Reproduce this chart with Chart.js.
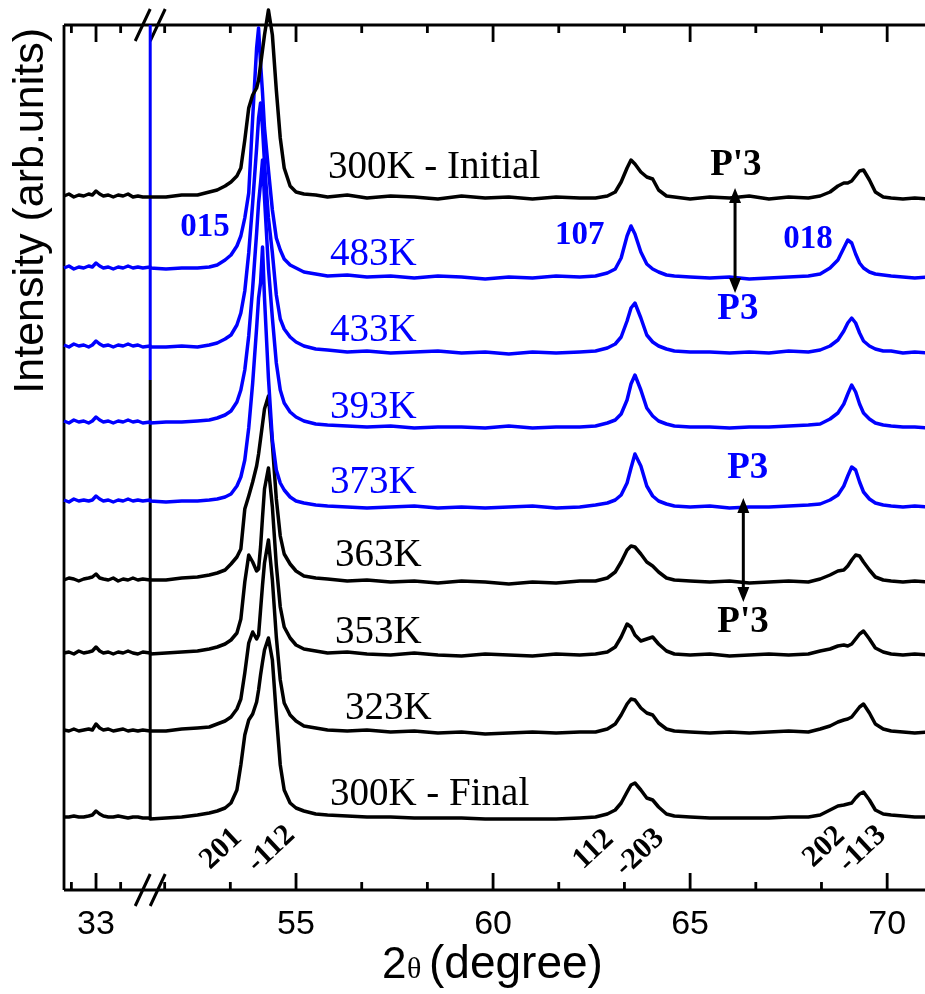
<!DOCTYPE html>
<html>
<head>
<meta charset="utf-8">
<script src="https://cdn.jsdelivr.net/npm/chart.js@4.4.1/dist/chart.umd.min.js"></script>
<style>
  html, body { margin: 0; padding: 0; background: #fff; }
  #wrap { width: 925px; height: 994px; }
</style>
</head>
<body>
<div id="wrap"><canvas id="xrd" width="925" height="994"></canvas></div>
<script>
// 2theta sample points (degree). First block is the 31.7-35.2 window left of the axis break.
const twoTheta = [
    31.7, 31.9, 32.1, 32.3, 32.5, 32.7, 32.85, 33.0, 33.15, 33.3, 33.5, 33.7, 33.9, 34.1, 34.3, 34.5, 34.7, 34.9, 35.2,
    51.3, 51.7, 52.1, 52.5, 52.8, 53.0, 53.2, 53.35, 53.5, 53.6, 53.7, 53.8, 53.9, 54.0, 54.05, 54.1, 54.15, 54.2, 54.3, 54.4, 54.5, 54.6, 54.7, 54.85, 55.0, 55.2, 55.5,
    55.8, 56.3, 56.8, 57.4, 58.0, 58.6, 59.2, 59.8, 60.4, 61.0, 61.6, 62.2,
    62.6, 62.9, 63.1, 63.25, 63.4, 63.5, 63.6, 63.75, 63.9, 64.05, 64.2, 64.4,
    64.6, 65.0, 65.5, 66.0, 66.5, 67.0, 67.5, 68.0,
    68.3, 68.55, 68.75, 68.9, 69.0, 69.1, 69.2, 69.3, 69.4, 69.55, 69.7, 69.9,
    70.1, 70.4, 70.7, 71.0
];

const curveNames = ['300K - Initial', '483K', '433K', '393K', '373K', '363K', '353K', '323K', '300K - Final'];
const curveColors = ['#000000', '#0000ff', '#0000ff', '#0000ff', '#0000ff', '#000000', '#000000', '#000000', '#000000'];
// vertical stacking offset of each pattern (arb. units)
const curveOffsets = [690, 612, 537, 462, 382, 306, 233, 155, 70];

// intensities above each pattern's baseline
const initial300K = [
    4, 6, 3, 5, 4, 6, 5, 9, 6, 4, 5, 3, 5, 4, 6, 3, 4, 3, 3,
    3, 3, 5, 5, 8, 10, 14, 18, 24, 32, 60, 92, 105, 112, 120, 135, 150, 165, 190, 165, 110, 62, 32, 14, 8, 6, 5,
    3, 5, 2, 4, 3, 1, 4, 2, 3, 1, 3, 2,
    2, 4, 8, 18, 32, 40, 36, 28, 23, 21, 10, 4,
    3, 1, 3, 2, 4, 1, 3, 2,
    4, 8, 14, 17, 17, 19, 24, 29, 30, 20, 8, 3,
    2, 1, 2, 1
];
const k483 = [
    10, 12, 9, 11, 10, 12, 11, 15, 12, 10, 11, 9, 11, 10, 12, 10, 11, 10, 11,
    10, 9, 10, 10, 11, 13, 18, 23, 32, 42, 60, 85, 160, 230, 250, 215, 185, 150, 108, 68, 40, 28, 19, 13, 10, 6, 4,
    2, 3, 1, 2, 0, 2, 1, -1, 1, 0, 2, 1,
    2, 5, 9, 20, 42, 52, 44, 26, 14, 9, 6, 3,
    2, 1, 0, 1, -1, 0, 1, 2,
    4, 10, 18, 30, 38, 35, 24, 15, 10, 6, 4, 3,
    2, 1, 0, 1
];
const k433 = [
    8, 6, 9, 7, 8, 6, 8, 12, 9, 7, 8, 6, 8, 7, 9, 7, 8, 6, 7,
    6, 6, 7, 6, 8, 10, 14, 18, 28, 40, 62, 100, 150, 205, 235, 250, 225, 190, 135, 100, 58, 34, 24, 16, 11, 7, 4,
    3, 1, 2, 0, 1, 2, 0, 1, -1, 1, 0, 1,
    2, 5, 9, 16, 32, 45, 50, 35, 18, 11, 7, 4,
    2, 1, 1, 0, 1, 0, 2, 1,
    3, 7, 13, 22, 30, 35, 30, 20, 12, 7, 4, 2,
    2, 0, 1, 0
];
const k393 = [
    7, 5, 8, 6, 7, 5, 7, 11, 8, 6, 7, 5, 7, 6, 8, 6, 7, 5, 6,
    5, 6, 6, 7, 8, 10, 13, 17, 26, 38, 58, 92, 140, 195, 225, 245, 268, 230, 160, 110, 65, 38, 25, 16, 11, 7, 4,
    3, 2, 1, 2, 0, 1, 1, 0, 2, 0, 1, 1,
    2, 5, 8, 14, 28, 44, 53, 38, 20, 12, 7, 4,
    2, 1, 1, 0, 1, 1, 2, 3,
    4, 9, 15, 24, 34, 43, 36, 24, 15, 9, 5, 3,
    2, 1, 1, 0
];
const k373 = [
    8, 6, 9, 7, 8, 7, 8, 12, 9, 7, 8, 6, 8, 7, 9, 7, 8, 7, 8,
    7, 6, 7, 7, 8, 9, 11, 14, 22, 31, 48, 80, 125, 180, 210, 225, 261, 210, 130, 68, 38, 25, 18, 11, 7, 5, 3,
    2, 1, 0, 1, 2, 0, 1, 0, 1, 2, 0, 1,
    3, 5, 8, 13, 25, 40, 54, 42, 22, 12, 7, 4,
    2, 1, 2, 0, 1, 1, 2, 3,
    4, 8, 13, 22, 32, 41, 38, 26, 16, 9, 5, 3,
    2, 1, 2, 1
];
const k363 = [
    4, 6, 5, 3, 5, 6, 7, 10, 6, 5, 4, 6, 3, 5, 4, 6, 4, 5, 4,
    4, 4, 6, 7, 9, 11, 14, 20, 27, 35, 75, 88, 102, 118, 130, 145, 160, 175, 188, 140, 85, 48, 30, 20, 13, 8, 6,
    5, 3, 4, 2, 3, 1, 3, 2, 0, 2, 1, 3,
    3, 6, 12, 22, 34, 38, 37, 30, 22, 18, 12, 6,
    4, 3, 2, 3, 1, 2, 3, 2,
    5, 9, 13, 14, 18, 24, 29, 28, 22, 14, 7, 4,
    3, 2, 3, 2
];
const k353 = [
    4, 5, 3, 6, 4, 5, 6, 10, 6, 4, 5, 3, 5, 4, 6, 4, 3, 5, 4,
    3, 4, 5, 6, 8, 10, 13, 17, 24, 38, 75, 102, 95, 86, 88, 110, 140, 168, 189, 150, 92, 50, 30, 19, 12, 8, 6,
    4, 5, 3, 2, 4, 2, 1, 3, 2, 1, 3, 2,
    3, 5, 10, 20, 33, 30, 22, 16, 18, 20, 13, 6,
    3, 2, 3, 1, 2, 3, 2, 3,
    6, 8, 11, 12, 11, 13, 18, 23, 26, 18, 9, 5,
    3, 2, 3, 2
];
const k323 = [
    5, 4, 6, 4, 5, 6, 5, 11, 7, 5, 6, 4, 5, 6, 4, 5, 4, 5, 4,
    4, 4, 6, 7, 8, 11, 14, 18, 26, 36, 62, 92, 103, 96, 100, 125, 150, 172, 195, 155, 98, 55, 32, 20, 14, 9, 7,
    5, 4, 5, 3, 4, 2, 3, 1, 2, 3, 2, 3,
    3, 6, 11, 20, 31, 36, 35, 27, 22, 20, 12, 6,
    4, 3, 2, 3, 2, 3, 4, 3,
    6, 9, 13, 15, 16, 18, 23, 28, 31, 22, 11, 6,
    4, 3, 2, 3
];
const final300K = [
    3, 3, 4, 3, 3, 4, 5, 9, 6, 4, 3, 3, 4, 3, 2, 3, 3, 2, 2,
    1, 2, 3, 5, 7, 9, 12, 17, 30, 55, 85, 100, 106, 118, 130, 145, 158, 170, 182, 160, 105, 55, 30, 17, 12, 9, 6,
    5, 4, 3, 3, 2, 2, 2, 1, 1, 1, 1, 2,
    3, 6, 10, 17, 28, 35, 37, 30, 22, 20, 13, 6,
    4, 3, 2, 2, 2, 2, 3, 3,
    5, 10, 14, 15, 16, 17, 22, 26, 28, 20, 10, 6,
    5, 4, 3, 3
];
const curveIntensities = [initial300K, k483, k433, k393, k373, k363, k353, k323, final300K];

// vertical connector drawn at the axis break (black lower part, blue upper part)
const breakBlack = [70, 510];
const breakBlue = [510, 865];

// axis ticks
const majorTheta = [33, 55, 60, 65, 70];
const majorLabels = ['33', '55', '60', '65', '70'];
const minorTheta = [32, 34, 51.667, 53.333, 56.667, 58.333, 61.667, 63.333, 66.667, 68.333];

// broken axis: the 31.7-35.2 window is squeezed in front of 51.3
const BREAK_LEFT = 35.2, BREAK_RIGHT = 51.3, SQUEEZE = 0.625;
function toAxis(t) {
    return t >= BREAK_RIGHT ? t : BREAK_RIGHT - (BREAK_LEFT - t) * SQUEEZE;
}

// annotations, in 2theta / intensity units
const nameLabels = [
    { t: 55.81, y: 712 }, { t: 55.86, y: 625 }, { t: 55.86, y: 549 }, { t: 55.86, y: 472 }, { t: 55.86, y: 397 },
    { t: 55.99, y: 324 }, { t: 55.99, y: 247 }, { t: 56.24, y: 171 }, { t: 55.86, y: 85 }
];
const hklBlue = [
    { text: '015', t: 52.06, y: 654 }, { text: '107', t: 61.57, y: 646 }, { text: '018', t: 67.36, y: 642 }
];
const phaseLabels = [
    { text: "P'3", t: 65.51, y: 715, color: '#000' }, { text: 'P3', t: 65.69, y: 571, color: '#0000ff' },
    { text: 'P3', t: 65.94, y: 412, color: '#0000ff' }, { text: "P'3", t: 65.69, y: 258, color: '#000' }
];
const arrows = [{ t: 66.14, y1: 702, y2: 597 }, { t: 66.35, y1: 392, y2: 288 }];
const hklBlack = [
    { text: '201', t: 52.82, y: 20 }, { text: '-112', t: 54.01, y: 17 }, { text: '112', t: 62.28, y: 20 },
    { text: '-203', t: 63.35, y: 13 }, { text: '202', t: 68.12, y: 22 }, { text: '-113', t: 69.01, y: 17 }
];

const datasets = curveIntensities.map((vals, i) => ({
    label: curveNames[i],
    data: vals.map((v, j) => ({ x: toAxis(twoTheta[j]), y: curveOffsets[i] + v })),
    borderColor: curveColors[i],
    borderWidth: 3.5,
    pointRadius: 0,
    tension: 0,
    borderJoinStyle: 'round',
    clip: false
}));
datasets.push({
    label: 'break', data: breakBlack.map(v => ({ x: BREAK_RIGHT, y: v })),
    borderColor: '#000', borderWidth: 3, pointRadius: 0, clip: false
});
datasets.push({
    label: 'break2', data: breakBlue.map(v => ({ x: BREAK_RIGHT, y: v })),
    borderColor: '#0000ff', borderWidth: 3, pointRadius: 0, clip: false
});

const decorations = {
    id: 'decorations',
    beforeDatasetsDraw(chart) {
        const { ctx, chartArea: a, scales: { x } } = chart;
        ctx.save();
        ctx.strokeStyle = '#000';
        ctx.lineWidth = 2.8;
        ctx.beginPath();
        ctx.moveTo(a.left, a.top); ctx.lineTo(a.left, a.bottom);
        ctx.moveTo(a.left, a.top); ctx.lineTo(a.right, a.top);
        ctx.moveTo(a.left, a.bottom); ctx.lineTo(a.right, a.bottom);
        const tick = (t, len) => {
            const px = x.getPixelForValue(toAxis(t));
            ctx.moveTo(px, a.bottom); ctx.lineTo(px, a.bottom - len);
            ctx.moveTo(px, a.top); ctx.lineTo(px, a.top + len);
        };
        majorTheta.forEach(t => tick(t, 17));
        minorTheta.forEach(t => tick(t, 8));
        ctx.stroke();

        // break marks
        const bx = x.getPixelForValue(BREAK_RIGHT);
        ctx.lineWidth = 3;
        ctx.beginPath();
        [a.top, a.bottom].forEach(yy => {
            ctx.moveTo(bx - 15, yy + 16); ctx.lineTo(bx, yy - 16);
            ctx.moveTo(bx, yy + 16); ctx.lineTo(bx + 15, yy - 16);
        });
        ctx.stroke();
        ctx.restore();
    },
    afterDatasetsDraw(chart) {
        const { ctx, scales: { x, y } } = chart;
        const px = t => x.getPixelForValue(toAxis(t));
        ctx.save();
        ctx.textBaseline = 'alphabetic';
        ctx.textAlign = 'left';

        ctx.font = '39px "Liberation Serif"';
        nameLabels.forEach((l, i) => {
            ctx.fillStyle = curveColors[i];
            ctx.fillText(curveNames[i], px(l.t), y.getPixelForValue(l.y));
        });

        ctx.font = 'bold 33px "Liberation Serif"';
        ctx.fillStyle = '#0000ff';
        hklBlue.forEach(l => ctx.fillText(l.text, px(l.t), y.getPixelForValue(l.y)));

        ctx.font = 'bold 37px "Liberation Serif"';
        phaseLabels.forEach(l => {
            ctx.fillStyle = l.color;
            ctx.fillText(l.text, px(l.t), y.getPixelForValue(l.y));
        });

        // double headed arrows
        ctx.strokeStyle = '#000';
        ctx.fillStyle = '#000';
        ctx.lineWidth = 3;
        arrows.forEach(ar => {
            const ax = px(ar.t), top = y.getPixelForValue(ar.y1), bot = y.getPixelForValue(ar.y2);
            ctx.beginPath();
            ctx.moveTo(ax, top + 10); ctx.lineTo(ax, bot - 10);
            ctx.stroke();
            ctx.beginPath();
            ctx.moveTo(ax, top); ctx.lineTo(ax - 6, top + 15); ctx.lineTo(ax + 6, top + 15); ctx.closePath();
            ctx.moveTo(ax, bot); ctx.lineTo(ax - 6, bot - 15); ctx.lineTo(ax + 6, bot - 15); ctx.closePath();
            ctx.fill();
        });

        ctx.font = 'bold 30px "Liberation Serif"';
        ctx.fillStyle = '#000';
        hklBlack.forEach(l => {
            ctx.save();
            ctx.translate(px(l.t), y.getPixelForValue(l.y));
            ctx.rotate(-43 * Math.PI / 180);
            ctx.fillText(l.text, 0, 0);
            ctx.restore();
        });

        // axis titles
        ctx.font = '44px "Liberation Sans"';
        ctx.fillText('2', 382, 978);
        ctx.font = '30px "Liberation Serif"';
        ctx.fillText('\u03b8', 407, 978);
        ctx.font = '46px "Liberation Sans"';
        ctx.fillText('(degree)', 429, 978);

        ctx.font = '43px "Liberation Sans"';
        ctx.save();
        ctx.translate(43, 28);
        ctx.rotate(-Math.PI / 2);
        ctx.textAlign = 'right';
        ctx.fillText('Intensity (arb.units)', 0, 0);
        ctx.restore();
        ctx.restore();
    }
};

new Chart(document.getElementById('xrd').getContext('2d'), {
    type: 'line',
    data: { datasets },
    options: {
        responsive: false,
        animation: false,
        layout: { padding: { left: 64, top: 25, right: 0, bottom: 0 } },
        plugins: { legend: { display: false }, tooltip: { enabled: false } },
        scales: {
            x: {
                type: 'linear',
                min: toAxis(31.7),
                max: 70.96,
                grid: { display: false, drawTicks: false },
                border: { display: false },
                afterBuildTicks: s => { s.ticks = majorTheta.map(t => ({ value: toAxis(t) })); },
                afterFit: s => { s.height = 104; },
                ticks: {
                    callback: (v, i) => majorLabels[i],
                    autoSkip: false,
                    maxRotation: 0,
                    padding: 14,
                    color: '#000',
                    font: { family: 'Liberation Sans', size: 34 }
                }
            },
            y: { display: false, min: 0, max: 865 }
        }
    },
    plugins: [decorations]
});
</script>
</body>
</html>
